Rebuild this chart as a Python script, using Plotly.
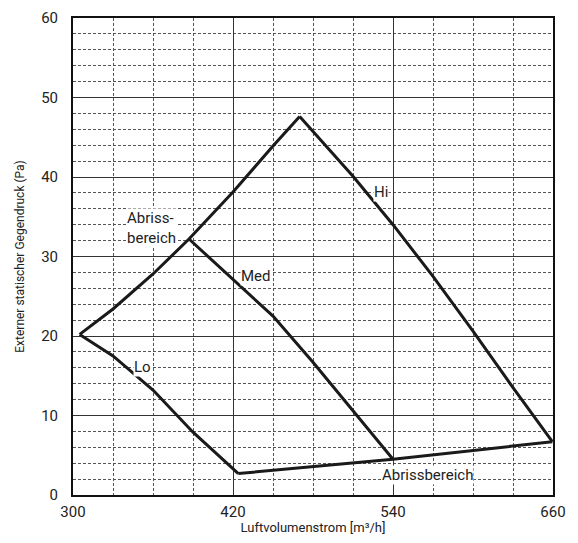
import plotly.graph_objects as go

# Kennlinien (Luftvolumenstrom m³/h, Gegendruck Pa)
lo_x = [305, 330, 360, 390, 424]
lo_y = [20.2, 17.5, 13.2, 7.9, 2.7]

abriss_oben_x = [305, 330, 360, 387, 420, 450, 470]
abriss_oben_y = [20.2, 23.4, 27.8, 32.2, 38.1, 43.9, 47.6]

med_x = [387, 420, 450, 480, 510, 540]
med_y = [32.2, 27.1, 22.5, 16.7, 10.6, 4.5]

hi_x = [470, 480, 510, 540, 570, 600, 630, 659.5]
hi_y = [47.6, 45.7, 40.1, 34.0, 27.5, 20.6, 13.5, 6.7]

abriss_unten_x = [424, 540, 659.5]
abriss_unten_y = [2.7, 4.5, 6.7]

x_ticks = [300, 420, 540, 660]
y_ticks = [0, 10, 20, 30, 40, 50, 60]

labels = ["Hi", "Med", "Lo", "Abriss-<br>bereich", "Abrissbereich"]
label_x = [531, 437, 352, 359, 566]
label_y = [38.1, 27.5, 16.1, 33.6, 2.5]

FONT = "Roboto, sans-serif"
LINIE = "#1a1a1a"

fig = go.Figure()
for xs, ys in [(lo_x, lo_y), (abriss_oben_x, abriss_oben_y), (med_x, med_y),
               (hi_x, hi_y), (abriss_unten_x, abriss_unten_y)]:
    fig.add_trace(go.Scatter(x=xs, y=ys, mode="lines",
                             line=dict(color=LINIE, width=3),
                             showlegend=False, hoverinfo="skip"))

for t, x, y in zip(labels, label_x, label_y):
    fig.add_annotation(x=x, y=y, text=t, showarrow=False, bgcolor="white",
                       align="left", font=dict(size=15, color="#222"),
                       borderpad=0)

# die Seite hat 8px Rand, daher etwas kleiner als das Fenster
fig.update_layout(
    width=562, height=527,
    paper_bgcolor="white", plot_bgcolor="white",
    font=dict(family=FONT, size=15, color="#222"),
    margin=dict(l=65, r=17, t=10, b=40),
)
fig.update_xaxes(
    range=[300, 660], tickvals=x_ticks, ticks="", ticklabelstandoff=2,
    automargin=False, ticklabeloverflow="allow",
    showline=True, mirror=True, linecolor="#111", linewidth=2,
    showgrid=True, gridcolor="#333", gridwidth=1, zeroline=False,
    minor=dict(dtick=30, tick0=300, showgrid=True, gridcolor="#555",
               griddash="3px,2px", gridwidth=1),
    title=dict(text="Luftvolumenstrom [m³/h]", font=dict(size=13), standoff=4),
)
fig.update_yaxes(
    range=[0, 60], tickvals=y_ticks, ticks="", ticklabelstandoff=10,
    automargin=False, ticklabeloverflow="allow",
    showline=True, mirror=True, linecolor="#111", linewidth=2,
    showgrid=True, gridcolor="#333", gridwidth=1, zeroline=False,
    minor=dict(dtick=2, tick0=0, showgrid=True, gridcolor="#555",
               griddash="3px,2px", gridwidth=1),
    title=dict(text="Externer statischer Gegendruck (Pa)", font=dict(size=12),
               standoff=14),
)

fig.write_html("out.html")
